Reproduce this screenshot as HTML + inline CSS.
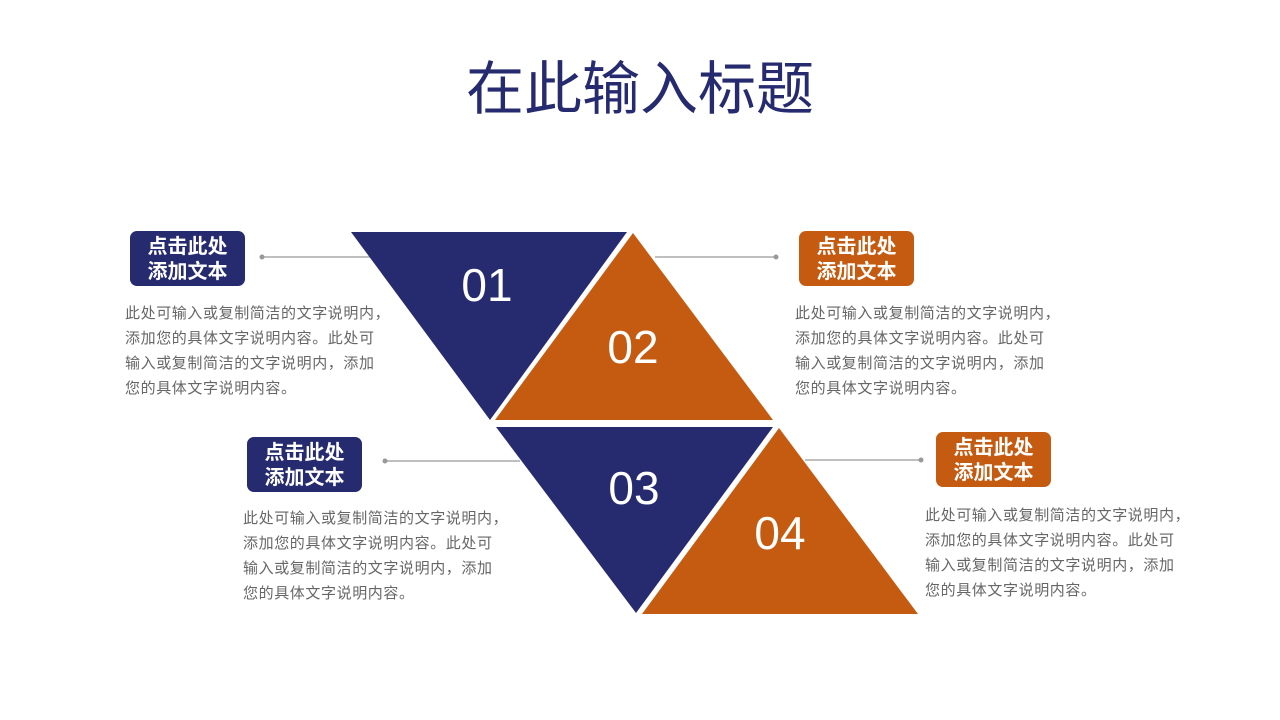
<!DOCTYPE html>
<html><head><meta charset="utf-8"><style>
html,body{margin:0;padding:0;background:#fff;}
body{width:1280px;height:720px;position:relative;overflow:hidden;font-family:"Liberation Sans","Noto Sans CJK SC",sans-serif;}
.t{position:absolute;left:0;width:1280px;top:54px;text-align:center;font-size:58px;color:#262a6e;line-height:72px;}
.box{position:absolute;width:115px;height:55px;border-radius:7px;color:#fff;font-weight:bold;font-size:20px;line-height:25px;text-align:center;padding-top:4px;box-sizing:border-box;}
.n{background:#262a6e}.o{background:#c55b11}
.p{position:absolute;font-size:15px;letter-spacing:0.6px;line-height:25px;color:#666;width:300px;}
</style></head><body>
<div class="t">在此输入标题</div>
<svg width="1280" height="720" style="position:absolute;left:0;top:0">
<g stroke="#999" stroke-width="1.2">
<line x1="262" y1="257" x2="370" y2="257"/><line x1="655" y1="257" x2="776" y2="257"/>
<line x1="385" y1="461" x2="520" y2="461"/><line x1="805" y1="460" x2="921" y2="460"/>
</g>
<g fill="#999"><circle cx="262" cy="257" r="2.5"/><circle cx="776" cy="257" r="2.5"/><circle cx="385" cy="461" r="2.5"/><circle cx="921" cy="460" r="2.5"/></g>
<polygon points="351,232 627,232 490,420" fill="#262a6e"/>
<polygon points="633,233 773,420 495,420" fill="#c55b11"/>
<polygon points="496,427 773,427 636,613" fill="#262a6e"/>
<polygon points="779,428 918,614 642,614" fill="#c55b11"/>
<g fill="#fff" font-family="Liberation Sans,sans-serif" font-size="46" text-anchor="middle">
<text x="487" y="301">01</text><text x="633" y="363">02</text><text x="634" y="504">03</text><text x="780" y="549">04</text>
</g>
</svg>
<div class="box n" style="left:130px;top:231px">点击此处<br>添加文本</div>
<div class="box o" style="left:799px;top:231px">点击此处<br>添加文本</div>
<div class="box n" style="left:247px;top:437px">点击此处<br>添加文本</div>
<div class="box o" style="left:936px;top:432px">点击此处<br>添加文本</div>
<div class="p" style="left:125px;top:301px">此处可输入或复制简洁的文字说明内，<br>添加您的具体文字说明内容。此处可<br>输入或复制简洁的文字说明内，添加<br>您的具体文字说明内容。</div>
<div class="p" style="left:795px;top:301px">此处可输入或复制简洁的文字说明内，<br>添加您的具体文字说明内容。此处可<br>输入或复制简洁的文字说明内，添加<br>您的具体文字说明内容。</div>
<div class="p" style="left:243px;top:506px">此处可输入或复制简洁的文字说明内，<br>添加您的具体文字说明内容。此处可<br>输入或复制简洁的文字说明内，添加<br>您的具体文字说明内容。</div>
<div class="p" style="left:925px;top:503px">此处可输入或复制简洁的文字说明内，<br>添加您的具体文字说明内容。此处可<br>输入或复制简洁的文字说明内，添加<br>您的具体文字说明内容。</div>
</body></html>
